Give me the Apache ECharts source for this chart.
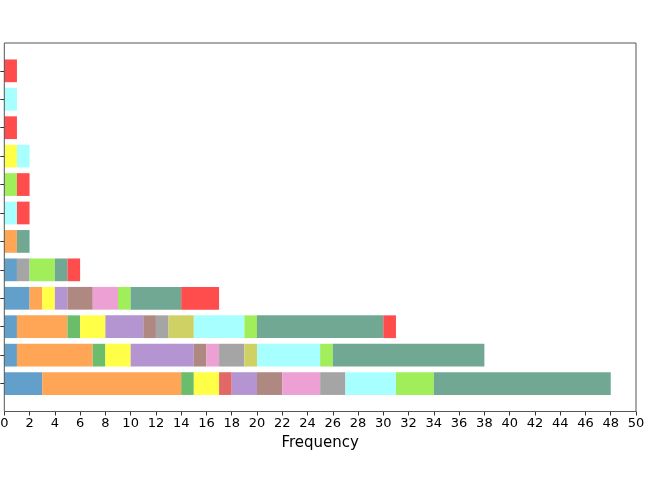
<!DOCTYPE html>
<html><head><meta charset="utf-8">
<script src="https://cdn.jsdelivr.net/npm/echarts@6/dist/echarts.min.js"></script>
<style>html,body{margin:0;padding:0;background:#fff}#c{width:652px;height:488px}</style>
</head><body><div id="c"></div>
<script>
// rows bottom (0) to top (11)
var categories = ['0','1','2','3','4','5','6','7','8','9','10','11'];
var xTicks = {min: 0, max: 50, interval: 2};
var blue    = [3,1,1,2,1,0,0,0,0,0,0,0];
var orange  = [11,6,4,1,0,1,0,0,0,0,0,0];
var green   = [1,1,1,0,0,0,0,0,0,0,0,0];
var yellow  = [2,2,2,1,0,0,0,0,1,0,0,0];
var red     = [1,0,0,0,0,0,0,0,0,0,0,0];
var purple  = [2,5,3,1,0,0,0,0,0,0,0,0];
var brown   = [2,1,1,2,0,0,0,0,0,0,0,0];
var pink    = [3,1,0,2,0,0,0,0,0,0,0,0];
var gray    = [2,2,1,0,1,0,0,0,0,0,0,0];
var olive   = [0,1,2,0,0,0,0,0,0,0,0,0];
var cyan    = [4,5,4,0,0,0,1,0,1,0,1,0];
var lgreen  = [3,1,1,1,2,0,0,1,0,0,0,0];
var teal    = [14,12,10,4,1,1,0,0,0,0,0,0];
var red2    = [0,0,1,3,1,0,1,1,0,1,0,1];

var seriesList = [
  ['blue', blue, '#629fca'], ['orange', orange, '#ffa556'], ['green', green, '#6bbc6b'],
  ['yellow', yellow, '#ffff47'], ['red', red, '#e26868'], ['purple', purple, '#b495d1'],
  ['brown', brown, '#af8981'], ['pink', pink, '#eca0d4'], ['gray', gray, '#a5a5a5'],
  ['olive', olive, '#d0d164'], ['cyan', cyan, '#a8ffff'], ['lightgreen', lgreen, '#a0ee5a'],
  ['teal', teal, '#70a893'], ['red2', red2, '#ff4c4c']
];

var font = 'DejaVu Sans';
var chart = echarts.init(document.getElementById('c'), null, {renderer: 'canvas'});
var option = {
  animation: false,
  grid: [
    {left: 4.3, right: 16, top: 56.6, height: 341.2, containLabel: false, outerBoundsMode: 'none'},
    {left: 4.3, right: 16, top: 43, height: 368.5, show: true, borderColor: '#555', borderWidth: 1,
     backgroundColor: 'transparent', z: 10, containLabel: false, outerBoundsMode: 'none'}
  ],
  xAxis: [
    {gridIndex: 0, type: 'value', min: xTicks.min, max: xTicks.max, interval: xTicks.interval, show: false},
    {gridIndex: 1, type: 'value', min: xTicks.min, max: xTicks.max, interval: xTicks.interval,
     name: 'Frequency', nameLocation: 'middle', nameGap: 16,
     nameTextStyle: {fontFamily: font, fontSize: 15, color: '#000'},
     axisLine: {show: false}, splitLine: {show: false},
     axisTick: {show: true, length: 4, lineStyle: {color: '#333'}},
     axisLabel: {fontFamily: font, fontSize: 13, color: '#000', margin: 6}}
  ],
  yAxis: [
    {gridIndex: 0, type: 'category', data: categories, axisLine: {show: false},
     axisTick: {show: true, length: 4, alignWithLabel: true, lineStyle: {color: '#333'}},
     axisLabel: {show: false}, splitLine: {show: false}},
    {gridIndex: 1, type: 'value', min: 0, max: 1, show: false}
  ],
  series: seriesList.map(function (s) {
    return {
      name: s[0], type: 'bar', stack: 'total', xAxisIndex: 0, yAxisIndex: 0,
      barWidth: '80%', itemStyle: {color: s[2]},
      data: s[1].map(function (v) { return v === 0 ? null : v; })
    };
  })
};
chart.setOption(option);
</script></body></html>
